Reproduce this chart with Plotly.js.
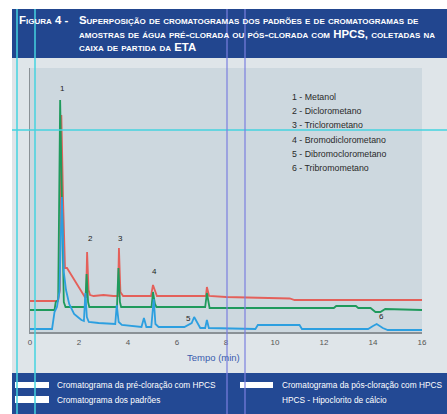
<!DOCTYPE html>
<html>
<head>
<meta charset="utf-8">
<script src="https://cdn.plot.ly/plotly-3.0.1.min.js"></script>
<style>html,body{margin:0;padding:0;background:#fff}#chart{width:447px;height:414px}</style>
</head>
<body>
<div id="chart"></div>
<script>
// ---- Data (time in minutes, detector response in arbitrary units) ----
const preChlorT = [0, 1.14, 1.22, 1.28, 1.35, 1.43, 1.51, 2.24, 2.29, 2.33, 2.39, 2.45, 2.6, 3.0, 3.4, 3.59, 3.63, 3.69, 3.8, 4.5, 4.94, 5.02, 5.1, 5.18, 6.0, 7.18, 7.22, 7.31, 8.0, 9.0, 10.6, 10.8, 16.0];
const preChlorV = [31, 31, 42, 217, 132, 64, 64, 35, 35, 80, 42, 37, 36, 37, 36, 36, 84, 40, 36, 36, 36, 47, 42, 36, 36, 36, 45, 36, 35, 34.5, 33.5, 32, 32];

const postChlorT = [0, 1.0, 1.05, 1.15, 1.23, 1.3, 1.38, 1.45, 2.25, 2.31, 2.37, 2.42, 3.55, 3.61, 3.67, 3.72, 4.96, 5.02, 5.1, 5.16, 7.15, 7.22, 7.3, 7.33, 8.0, 12.4, 12.5, 13.3, 13.4, 13.9, 14.1, 14.3, 14.5, 16.0];
const postChlorV = [22, 22, 30, 32, 232, 150, 30, 25, 25, 58, 30, 25, 25, 64, 30, 25, 25, 40, 28, 25, 25, 39, 30, 24, 24, 24, 26, 26, 24, 24, 20, 20, 23, 22];

const standardsT = [0, 0.9, 1.0, 1.1, 1.2, 1.3, 1.38, 1.47, 1.6, 1.8, 2.0, 2.1, 2.2, 2.26, 2.32, 2.4, 2.8, 3.2, 3.48, 3.54, 3.62, 3.75, 4.3, 4.55, 4.65, 4.75, 4.95, 5.05, 5.12, 5.25, 6.3, 6.6, 6.7, 6.8, 6.95, 7.15, 7.22, 7.3, 8.5, 9.2, 9.3, 11.0, 11.1, 13.8, 14.0, 14.15, 14.4, 14.6, 16.0];
const standardsV = [3, 3, 20, 25, 40, 135, 60, 42, 28, 18, 14, 12, 11, 39, 15, 10, 9, 8, 8, 27, 10, 7, 6, 5, 14, 5, 5, 33, 8, 5, 5, 9, 15, 10, 4, 4, 12, 4, 3, 3, 7, 7, 3, 3, 6, 8, 4, 2, 2];

const peakLabels = ['1', '2', '3', '4', '5', '6'];
const peakT = [1.31, 2.45, 3.71, 5.1, 6.45, 14.33];
const peakV = [244, 94, 94, 61, 14, 16];

const compoundList = ['1 - Metanol', '2 - Diclorometano', '3 - Triclorometano', '4 - Bromodiclorometano', '5 - Dibromoclorometano', '6 - Tribromometano'];
const xTicks = [0, 2, 4, 6, 8, 10, 12, 14, 16];

// ---- Layout geometry helpers (pixel -> paper) ----
const W = 447, H = 414, L = 30, R = 422, T = 68, B = 332;
const PX = x => (x - L) / (R - L);
const PY = y => (B - y) / (B - T);

const FONT = 'Liberation Sans, Arial, sans-serif';
const traces = [
  {x: preChlorT, y: preChlorV, mode: 'lines', line: {color: '#e4605a', width: 1.8}, hoverinfo: 'skip'},
  {x: postChlorT, y: postChlorV, mode: 'lines', line: {color: '#1f9a5c', width: 1.8}, hoverinfo: 'skip'},
  {x: standardsT, y: standardsV, mode: 'lines', line: {color: '#2c9fe0', width: 1.8}, hoverinfo: 'skip'}
];

const annotations = [];
peakLabels.forEach((t, i) => annotations.push({
  x: peakT[i], y: peakV[i], xref: 'x', yref: 'y', text: t, showarrow: false,
  xanchor: 'center', yanchor: 'middle',
  font: {family: FONT, size: 8, color: '#222'}
}));
compoundList.forEach((t, i) => annotations.push({
  x: PX(290), y: PY(97 + i * 14.2), xref: 'paper', yref: 'paper', xanchor: 'left', yanchor: 'middle',
  text: t, showarrow: false, font: {family: FONT, size: 8.8, color: '#2a2a2a'}
}));
annotations.push({x: PX(213), y: PY(357), xref: 'paper', yref: 'paper', xanchor: 'center', yanchor: 'middle',
  text: 'Tempo (min)', showarrow: false, font: {family: FONT, size: 9.5, color: '#3a5cae'}});

const titleFont = {family: FONT, size: 11.4, color: '#ffffff', weight: 'bold', variant: 'small-caps'};
[['Figura 4 -', 17, 20], ['Superposição de cromatogramas dos padrões e de cromatogramas de', 77, 20],
 ['amostras de água pré-clorada ou pós-clorada com HPCS, coletadas na', 77, 34],
 ['caixa de partida da ETA', 77, 47]].forEach(a => annotations.push({
  x: PX(a[1]), y: PY(a[2]), xref: 'paper', yref: 'paper', xanchor: 'left', yanchor: 'middle',
  text: a[0], showarrow: false, font: titleFont
}));

const legFont = {family: FONT, size: 8.3, color: '#ffffff'};
[['Cromatograma da pré-cloração com HPCS', 55, 385], ['Cromatograma dos padrões', 55, 400],
 ['Cromatograma da pós-cloração com HPCS', 280, 385], ['HPCS - Hipoclorito de cálcio', 280, 400]].forEach(a => annotations.push({
  x: PX(a[1]), y: PY(a[2]), xref: 'paper', yref: 'paper', xanchor: 'left', yanchor: 'middle',
  text: a[0], showarrow: false, font: legFont
}));

function rect(x0, y0, x1, y1, color, layer) {
  return {type: 'rect', xref: 'paper', yref: 'paper', x0: PX(x0), x1: PX(x1), y0: PY(y1), y1: PY(y0),
    fillcolor: color, line: {width: 0}, layer: layer || 'below'};
}
function line(x0, y0, x1, y1, color, w) {
  return {type: 'line', xref: 'paper', yref: 'paper', x0: PX(x0), x1: PX(x1), y0: PY(y0), y1: PY(y1),
    line: {color: color, width: w}, layer: 'above'};
}
const shapes = [
  rect(0, 0, 12, 414, '#ffffff'),
  rect(0, 0, 447, 9, '#ffffff'),
  rect(12, 9, 447, 58, '#22468f'),
  rect(12, 373, 447, 414, '#234994'),
  rect(15, 382, 49, 388, '#ffffff'),
  rect(15, 396, 49, 403, '#ffffff'),
  rect(240, 382, 273, 388, '#ffffff'),
  line(17, 9, 17, 414, '#45d3df', 1.5),
  line(35, 9, 35, 414, '#45d3df', 1.5),
  line(12, 130, 447, 130, '#45d3df', 1.5),
  line(227, 9, 227, 414, '#7b7fe0', 1.2),
  line(245, 9, 245, 414, '#7b7fe0', 1.2)
];

const layout = {
  width: W, height: H,
  margin: {l: L, r: W - R, t: T, b: H - B, pad: 0},
  paper_bgcolor: '#dfe5e9', plot_bgcolor: '#cdd8df',
  showlegend: false,
  xaxis: {range: [0, 16], tickvals: xTicks, ticktext: xTicks.map(String), showgrid: false, zeroline: false,
    showline: true, linecolor: '#8a9196', linewidth: 1.5, ticks: '', ticklabelstandoff: 2,
    tickfont: {family: FONT, size: 8, color: '#555'}},
  yaxis: {range: [0, 264], showticklabels: false, showgrid: false, zeroline: false,
    showline: true, linecolor: '#8a9196', linewidth: 1.5, ticks: ''},
  annotations: annotations,
  shapes: shapes
};
Plotly.newPlot('chart', traces, layout, {staticPlot: true, displayModeBar: false});
</script>
</body>
</html>
